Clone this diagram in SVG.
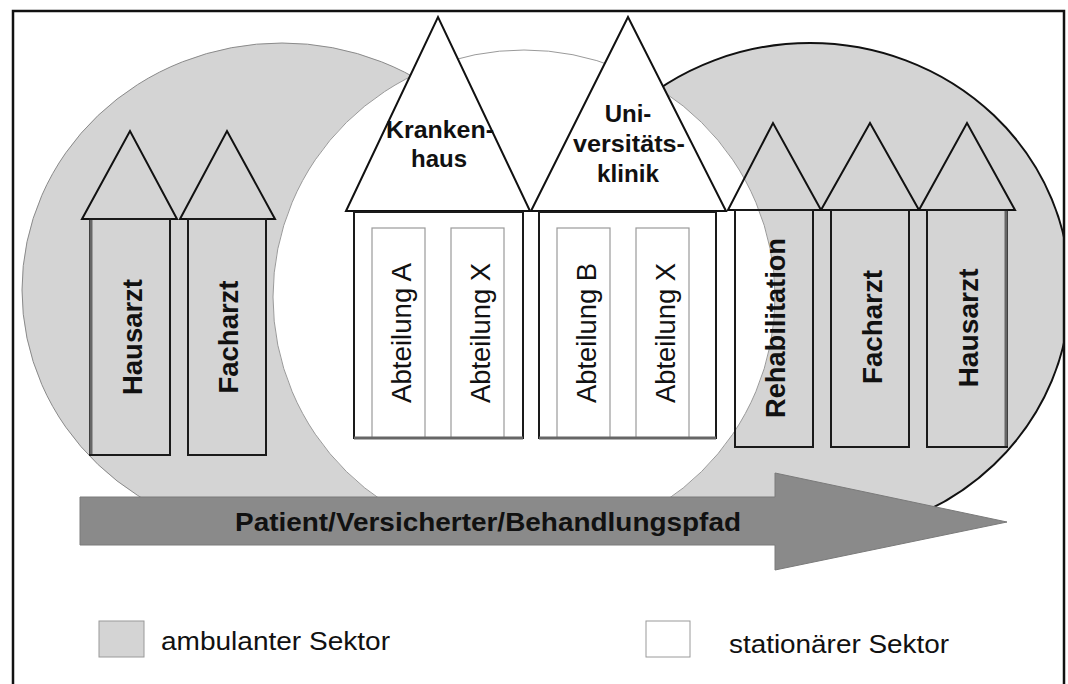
<svg xmlns="http://www.w3.org/2000/svg" width="1068" height="684" viewBox="0 0 1068 684">
<style>
.t{font-family:"Liberation Sans",Arial,sans-serif;fill:#111}
.b{font-weight:bold}
.roof{fill:none;stroke:#111;stroke-width:2;stroke-linejoin:miter}
.roofw{fill:#fff;stroke:#111;stroke-width:2}
.body{fill:none;stroke:#1a1a1a;stroke-width:2}
.bodyw{fill:#fff;stroke:#1a1a1a;stroke-width:2}
.dept{fill:#fff;stroke:#9a9a9a;stroke-width:1.2}
.sh{stroke:#666;stroke-width:3;fill:none}
</style>
<defs>
<clipPath id="frameclip"><rect x="13" y="11" width="1051" height="680"/></clipPath>
</defs>
<rect x="0" y="0" width="1068" height="684" fill="#fff"/>
<g id="sectors" clip-path="url(#frameclip)">
<ellipse id="ambulant-right" cx="810" cy="290" rx="260" ry="247" fill="#d4d4d4" stroke="#111" stroke-width="2"/>
<ellipse id="ambulant-left" cx="282" cy="290" rx="260" ry="247" fill="#d4d4d4" stroke="#8a8a8a" stroke-width="1"/>
<ellipse id="stationaer" cx="524" cy="297" rx="251" ry="247" fill="#fff" stroke="#9a9a9a" stroke-width="1"/>
</g>
<path id="frame" d="M13,690 V11 H1064 V690" fill="none" stroke="#111" stroke-width="2.5"/>
<g id="hausarzt-left">
<polygon class="roof" points="82,219 130,131 177,219"/>
<rect class="body" x="90" y="219" width="80" height="236"/>
<line class="sh" x1="91" y1="220" x2="91" y2="454"/>
<text class="t b" font-size="28" textLength="116" lengthAdjust="spacingAndGlyphs" text-anchor="middle" transform="translate(142,337) rotate(-90)">Hausarzt</text>
</g>
<g id="facharzt-left">
<polygon class="roof" points="180,219 227,131 275,219"/>
<rect class="body" x="188" y="219" width="78" height="236"/>
<text class="t b" font-size="28" textLength="113" lengthAdjust="spacingAndGlyphs" text-anchor="middle" transform="translate(238,337) rotate(-90)">Facharzt</text>
</g>
<g id="krankenhaus">
<polygon class="roofw" points="346,211 438,17 530,211"/>
<rect class="bodyw" x="354" y="212" width="169" height="226"/>
<rect class="dept" x="372" y="228" width="53" height="210"/>
<rect class="dept" x="451" y="228" width="53" height="210"/>
<line class="sh" x1="354" y1="438" x2="523" y2="438"/>
<text class="t b" font-size="24" textLength="108" lengthAdjust="spacingAndGlyphs" text-anchor="middle" x="440" y="138">Kranken-</text>
<text class="t b" font-size="24" text-anchor="middle" x="439" y="167">haus</text>
<text class="t" font-size="27" textLength="140" lengthAdjust="spacingAndGlyphs" text-anchor="middle" transform="translate(411,333) rotate(-90)">Abteilung A</text>
<text class="t" font-size="27" textLength="140" lengthAdjust="spacingAndGlyphs" text-anchor="middle" transform="translate(490,333) rotate(-90)">Abteilung X</text>
</g>
<g id="universitaetsklinik">
<polygon class="roofw" points="531,211 628,17 726,211"/>
<rect class="bodyw" x="539" y="212" width="177" height="226"/>
<rect class="dept" x="557" y="228" width="53" height="210"/>
<rect class="dept" x="636" y="228" width="53" height="210"/>
<line class="sh" x1="539" y1="438" x2="716" y2="438"/>
<text class="t b" font-size="24" text-anchor="middle" x="628" y="122">Uni-</text>
<text class="t b" font-size="24" textLength="112" lengthAdjust="spacingAndGlyphs" text-anchor="middle" x="629" y="152">versitäts-</text>
<text class="t b" font-size="24" textLength="62" lengthAdjust="spacingAndGlyphs" text-anchor="middle" x="628" y="182">klinik</text>
<text class="t" font-size="27" textLength="140" lengthAdjust="spacingAndGlyphs" text-anchor="middle" transform="translate(596,333) rotate(-90)">Abteilung B</text>
<text class="t" font-size="27" textLength="140" lengthAdjust="spacingAndGlyphs" text-anchor="middle" transform="translate(675,333) rotate(-90)">Abteilung X</text>
</g>
<g id="rehabilitation">
<polygon class="roof" points="728,210 773,123 821,210"/>
<rect class="body" x="735" y="210" width="78" height="237"/>
<text class="t b" font-size="28" textLength="180" lengthAdjust="spacingAndGlyphs" text-anchor="middle" transform="translate(785,328) rotate(-90)">Rehabilitation</text>
</g>
<g id="facharzt-right">
<polygon class="roof" points="821,210 870,123 919,210"/>
<rect class="body" x="831" y="210" width="78" height="237"/>
<text class="t b" font-size="28" textLength="114" lengthAdjust="spacingAndGlyphs" text-anchor="middle" transform="translate(882,327) rotate(-90)">Facharzt</text>
</g>
<g id="hausarzt-right">
<polygon class="roof" points="919,210 967,123 1015,210"/>
<rect class="body" x="927" y="210" width="80" height="237"/>
<line class="sh" x1="1006" y1="211" x2="1006" y2="446"/>
<text class="t b" font-size="28" textLength="119" lengthAdjust="spacingAndGlyphs" text-anchor="middle" transform="translate(978,328) rotate(-90)">Hausarzt</text>
</g>
<g id="connectors">
<g id="behandlungspfad">
<polygon points="80,497 775,497 775,473 1007,522 775,570 775,545 80,545" fill="#8a8a8a" stroke="#7a7a7a" stroke-width="1"/>
<text class="t b" font-size="26" textLength="506" lengthAdjust="spacingAndGlyphs" x="235" y="531">Patient/Versicherter/Behandlungspfad</text>
</g>
</g>
<g id="legend-ambulant">
<rect x="99" y="621" width="45" height="36" fill="#d4d4d4" stroke="#9a9a9a" stroke-width="1"/>
<text class="t" font-size="26" textLength="229" lengthAdjust="spacingAndGlyphs" x="161" y="650">ambulanter Sektor</text>
</g>
<g id="legend-stationaer">
<rect x="646" y="621" width="44" height="36" fill="#fff" stroke="#9a9a9a" stroke-width="1"/>
<text class="t" font-size="26" textLength="220" lengthAdjust="spacingAndGlyphs" x="729" y="653">stationärer Sektor</text>
</g>
</svg>
